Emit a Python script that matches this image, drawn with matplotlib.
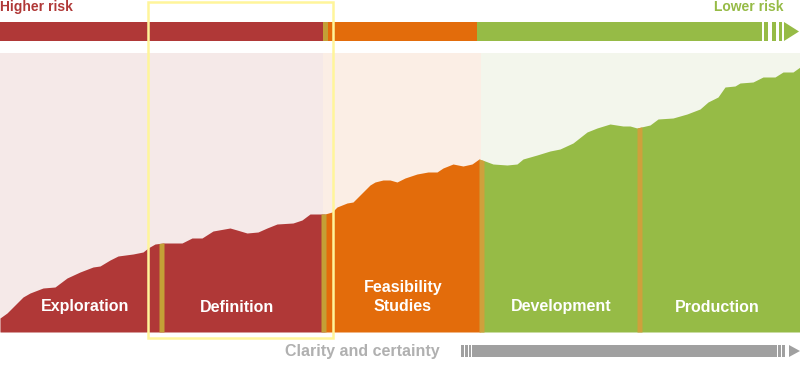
# 风险与确定性阶段图

import matplotlib.pyplot as plt
from matplotlib.patches import Polygon, Rectangle
import numpy as np

plt.rcParams['font.family'] = ['Liberation Sans', 'DejaVu Sans']

# 阶段
phases = ['Exploration', 'Definition', 'Feasibility\nStudies', 'Development', 'Production']
phase_edges = [0, 161, 323, 481, 639, 800]
label_x = [85, 237, 403, 561, 717]
panel_colors = ['#f5e9e8', '#f5e9e8', '#fbeee5', '#f3f6ec', '#f3f6ec']

# 曲线（确定性水平）
curve_x = [0, 7, 23, 30, 43, 55, 67, 80, 93, 100, 110, 118, 133, 143, 148, 155, 163,
           182, 192, 202, 213, 230, 237, 247, 258, 267, 277, 293, 302, 310, 320, 325,
           332, 337, 347, 353, 362, 370, 375, 383, 390, 397, 405, 417, 428, 437, 443,
           453, 463, 472, 479, 485, 493, 507, 517, 523, 537, 550, 560, 573, 587, 597,
           610, 623, 630, 637, 650, 658, 673, 687, 700, 708, 718, 725, 735, 740, 753,
           763, 775, 783, 793, 800]
curve_y = [48, 53, 69, 73, 78, 79, 88, 94, 99, 100, 106, 110, 112, 114, 118, 122, 123,
           123, 128, 128, 135, 138, 136, 133, 134, 138, 142, 143, 146, 152, 152, 152,
           154, 159, 163, 164, 173, 181, 184, 186, 186, 184, 188, 192, 194, 194, 198,
           202, 200, 202, 207, 205, 202, 201, 202, 207, 211, 215, 217, 223, 234, 238,
           242, 240, 240, 238, 241, 247, 248, 252, 257, 264, 269, 279, 280, 283, 284,
           289, 289, 294, 294, 299]

base = 34
panel_top = 313
curve_x = np.array(curve_x, dtype=float)
curve_y = np.array(curve_y, dtype=float)

fig = plt.figure(figsize=(8, 3.66), dpi=100)
ax = fig.add_axes([0, 0, 1, 1])
ax.set_xlim(0, 800)
ax.set_ylim(0, 366)
ax.axis('off')


def curve_segment(x0, x1):
    xs = np.concatenate([[x0], curve_x[(curve_x > x0) & (curve_x < x1)], [x1]])
    return xs, np.interp(xs, curve_x, curve_y)


# 背景面板
for i in range(len(phases)):
    ax.fill_between([phase_edges[i], phase_edges[i + 1]], base, panel_top,
                    color=panel_colors[i], lw=0)

# 面积
fills = [(0, 325, '#b03837'), (325, 481, '#e36c0b'), (481, 800, '#96bb46')]
for x0, x1, c in fills:
    xs, ys = curve_segment(x0, x1)
    ax.fill_between(xs, base, ys, color=c, lw=0)

# 金色分隔线
stripes = [(159, 164, '#c4a036'), (321, 326, '#c4a036'), (479, 484, '#cfa03c'), (637, 642, '#cfa03c')]
for x0, x1, c in stripes:
    xs, ys = curve_segment(x0, x1)
    ax.fill_between(xs, base, ys, color=c, lw=0)

# 阶段标签
for i, name in enumerate(phases):
    ax.text(label_x[i], 59 if i != 2 else 69, name, color='white', fontsize=11.5,
            fontweight='bold', ha='center', va='center', linespacing=1.35)

# 顶部风险条
bar_y, bar_h = 325, 19
top_segments = [(0, 323, '#b03837'), (323, 4.5, '#c4a036'), (327.5, 150, '#e36c0b'),
                (477, 285, '#96bb46'), (764, 4, '#96bb46'), (771.5, 4, '#96bb46'),
                (779, 3, '#96bb46')]
for x0, w, c in top_segments:
    ax.add_patch(Rectangle((x0, bar_y), w, bar_h, color=c, lw=0))
ax.add_patch(Polygon([(784, bar_y), (784, bar_y + bar_h), (799, bar_y + bar_h / 2)],
                     closed=True, color='#96bb46', lw=0))
ax.text(0, 359, 'Higher risk', color='#b03837', fontsize=10, fontweight='bold',
        ha='left', va='center')
ax.text(783, 359, 'Lower risk', color='#96bb46', fontsize=10, fontweight='bold',
        ha='right', va='center')

# 底部确定性条
gy, gh = 9, 12
bottom_segments = [(461, 2.5), (465, 2.5), (468.5, 2.5), (472, 305), (778, 2.5), (782, 2.5)]
for x0, w in bottom_segments:
    ax.add_patch(Rectangle((x0, gy), w, gh, color='#a0a0a0', lw=0))
ax.add_patch(Polygon([(789, gy), (789, gy + gh), (800, gy + gh / 2)],
                     closed=True, color='#a0a0a0', lw=0))
ax.text(440, 14.5, 'Clarity and certainty', color='#b0b0b0', fontsize=11.5,
        fontweight='bold', ha='right', va='center')

# 高亮框
ax.add_patch(Rectangle((148, 28), 185, 336, fill=False, edgecolor='#fff59a', lw=1.8))

fig.savefig('out.png', dpi=100)
